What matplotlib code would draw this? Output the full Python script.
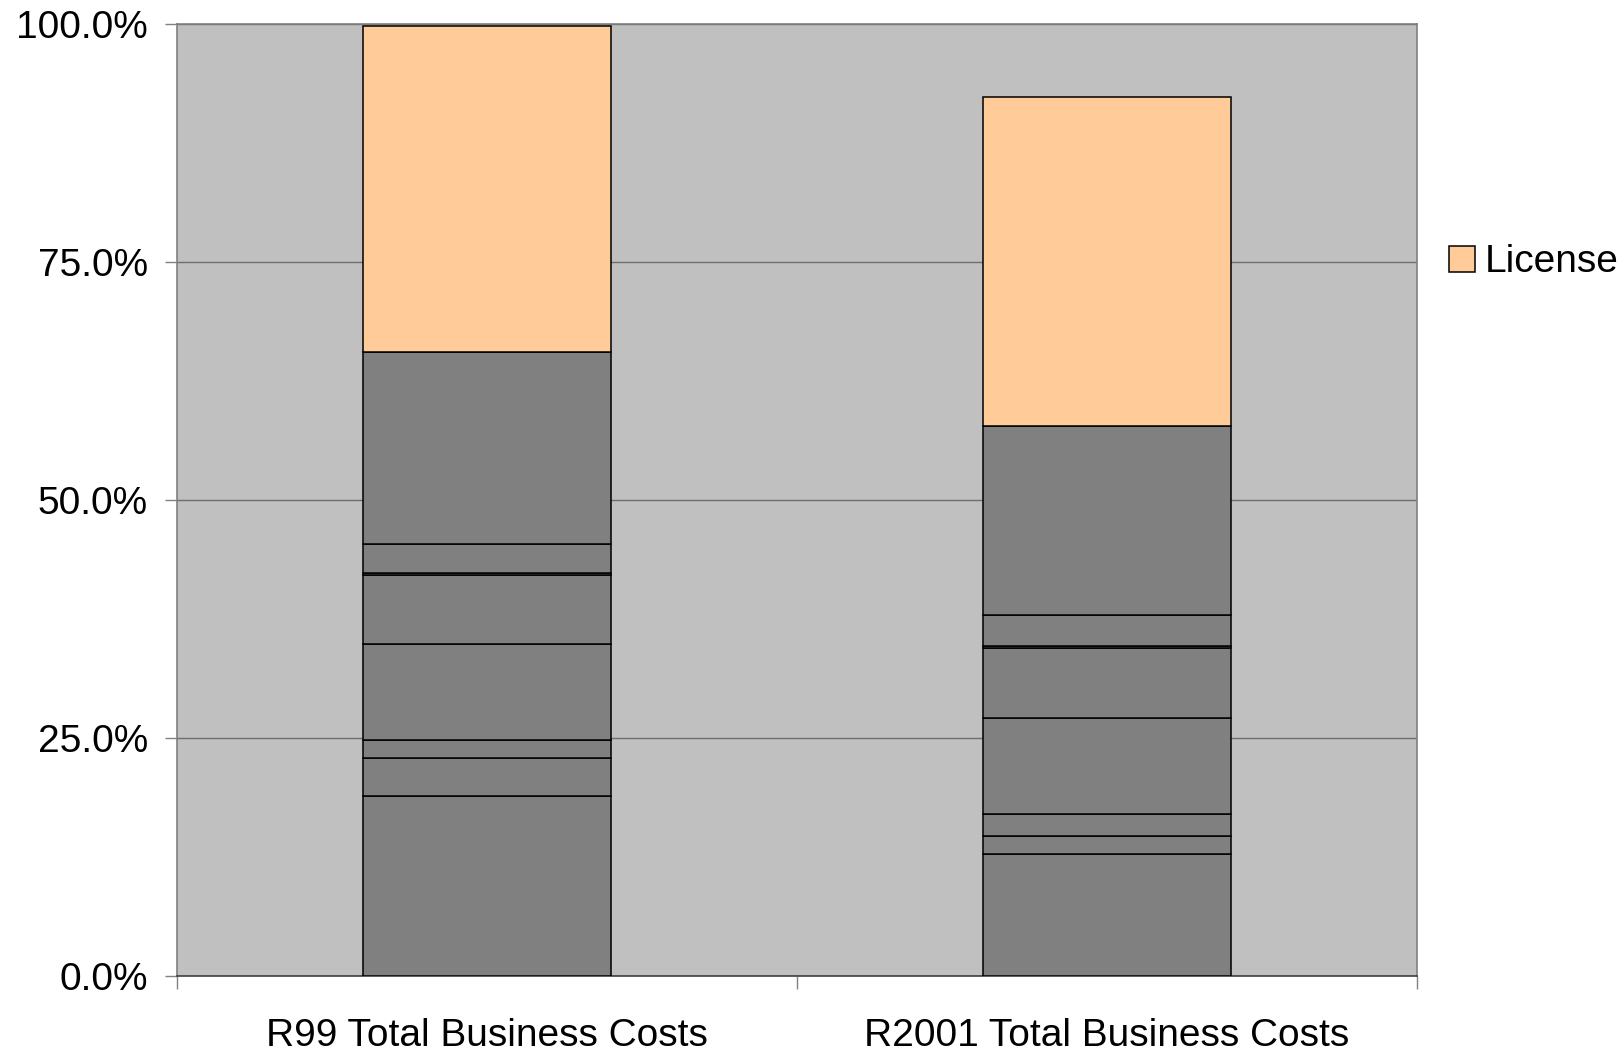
import numpy as np
import matplotlib.pyplot as plt

plt.rcParams['font.family'] = ['Liberation Sans', 'DejaVu Sans']

categories = ["R99 Total Business Costs", "R2001 Total Business Costs"]

# stacked cost layers (% of R99 total), bottom to top
cost_layers = [
    [18.9, 12.8],
    [4.0, 1.9],
    [1.9, 2.3],
    [10.1, 10.1],
    [7.2, 7.4],
    [0.2, 0.2],
    [3.1, 3.2],
    [20.1, 19.9],
]
license = [34.3, 34.5]

yticks = [0, 25, 50, 75, 100]
ytick_labels = ["0.0%", "25.0%", "50.0%", "75.0%", "100.0%"]

fig = plt.figure(figsize=(16.24, 10.53), dpi=100)
ax = fig.add_axes([0.109, 0.0731, 0.7635, 0.9041])
ax.set_facecolor("#C0C0C0")

x = np.arange(len(categories))
bottom = np.zeros(len(categories))
for layer in cost_layers:
    ax.bar(x, layer, 0.4, bottom=bottom, color="#808080",
           edgecolor="black", linewidth=1.1, zorder=3)
    bottom += np.array(layer)
ax.bar(x, license, 0.4, bottom=bottom, color="#FFCC99",
       edgecolor="black", linewidth=1.1, zorder=3, label="License")

ax.set_xlim(-0.5, 1.5)
ax.set_ylim(0, 100)
ax.set_yticks(yticks)
ax.set_yticklabels(ytick_labels)
ax.set_xticks(x)
ax.set_xticklabels(categories)
ax.set_xticks([-0.5, 0.5, 1.5], minor=True)
ax.tick_params(axis="x", which="major", length=0, pad=30, labelsize=28)
ax.tick_params(axis="x", which="minor", length=9, width=1, color="#808080")
ax.tick_params(axis="y", length=9, width=1, color="#808080", pad=12, labelsize=28)
ax.yaxis.grid(True, color="#6E6E6E", linewidth=1, zorder=1)
ax.set_axisbelow(True)
for side in ["left", "right", "top", "bottom"]:
    ax.spines[side].set_color("#808080")
    ax.spines[side].set_linewidth(1.2)
ax.spines["bottom"].set_color("#404040")

fig.legend(loc="center left", bbox_to_anchor=(0.8805, 0.751), frameon=False,
           fontsize=28, handlelength=0.65, handleheight=0.65,
           handletextpad=0.25, borderpad=0)

fig.savefig("out.png", dpi=100)
